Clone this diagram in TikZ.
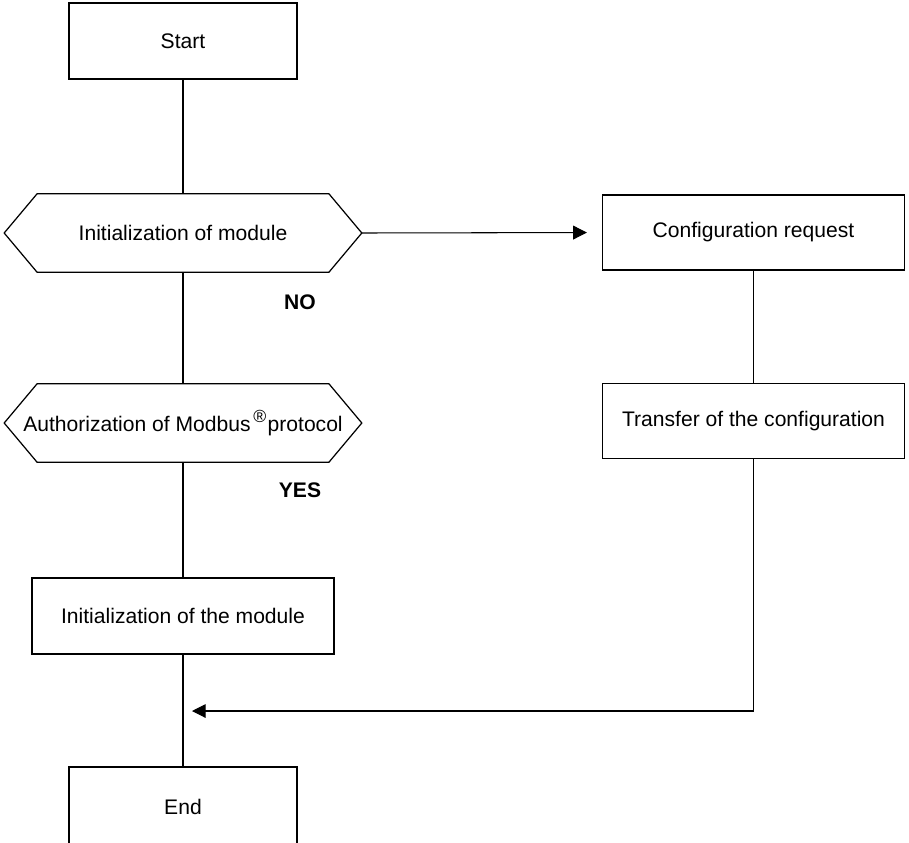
\documentclass[tikz,border=0pt]{standalone}
\usepackage{fontspec}
\setmainfont{Liberation Sans}
\usetikzlibrary{arrows.meta}

\begin{document}
\begin{tikzpicture}[x=0.02cm, y=-0.02cm,
    stepbox/.style={draw, line width=0.7pt, minimum width=4.56cm, minimum height=1.52cm, inner sep=0pt, font=\fontsize{12}{14}\selectfont},
    widebox/.style={stepbox, minimum width=6.04cm, minimum height=1.5cm},
    hexbox/.style={minimum width=7.14cm, minimum height=1.56cm, inner sep=0pt, font=\fontsize{12}{14}\selectfont},
    answer/.style={font=\fontsize{12}{14}\selectfont\bfseries},
    link/.style={line width=0.6pt},
    flow/.style={link, -{Triangle[length=7.8pt, width=7.8pt]}}]

    \useasboundingbox (0,0) rectangle (909,842);

    % Left column
    \node[stepbox] (start) at (183,41) {Start};

    \node[hexbox] (initmodule) at (183,233) {Initialization of module};
    \draw[line width=0.7pt] (initmodule.west) -- ([xshift=0.66cm]initmodule.north west) -- ([xshift=-0.66cm]initmodule.north east) -- (initmodule.east) -- ([xshift=-0.66cm]initmodule.south east) -- ([xshift=0.66cm]initmodule.south west) -- cycle;

    \node[hexbox] (authorize) at (183,423) {Authorization of Modbus\kern1.5pt\raisebox{0.42em}{\fontsize{10}{10}\selectfont ®}\kern0.8pt protocol};
    \draw[line width=0.7pt] (authorize.west) -- ([xshift=0.66cm]authorize.north west) -- ([xshift=-0.66cm]authorize.north east) -- (authorize.east) -- ([xshift=-0.66cm]authorize.south east) -- ([xshift=0.66cm]authorize.south west) -- cycle;

    \node[widebox, minimum height=1.52cm] (initthe) at (183,616) {Initialization of the module};
    \node[stepbox, minimum height=1.6cm] (finish) at (183,807) {End};

    % Right column
    \node[widebox] (confreq) at (753.5,232.5) {Configuration request};
    \node[widebox] (transfer) at (753.5,421) {Transfer of the configuration};

    % Answers
    \node[answer] (no) at (300,302) {NO};
    \node[answer] (yes) at (300,490) {YES};

    % Connections
    \draw[link] (start) -- (initmodule);
    \draw[link] (initmodule) -- (authorize);
    \draw[link] (authorize) -- (initthe);
    \draw[link] (initthe) -- (finish);
    \draw[link] (confreq) -- (transfer);

    \draw[flow, shorten >=0.3cm] (initmodule.east) -- (confreq.west);

    \coordinate (merge) at (183,711);
    \draw[flow, shorten >=0.18cm] (transfer.south) |- (merge);

\end{tikzpicture}
\end{document}
